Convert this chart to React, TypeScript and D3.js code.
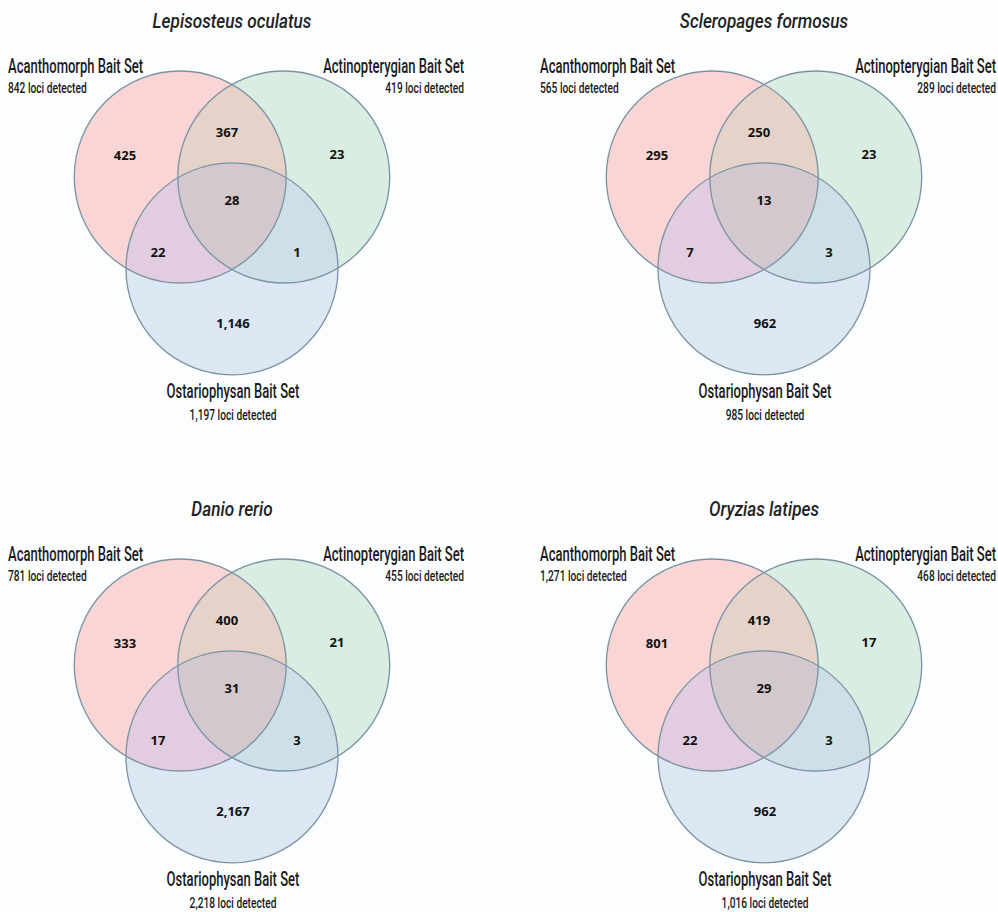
import React from "react";
import * as d3 from "d3";

const titles = ["Lepisosteus oculatus", "Scleropages formosus", "Danio rerio", "Oryzias latipes"];
const setNames = ["Acanthomorph Bait Set", "Actinopterygian Bait Set", "Ostariophysan Bait Set"];
const onlyA = [425, 295, 333, 801];
const onlyB = [23, 23, 21, 17];
const onlyC = [1146, 962, 2167, 962];
const bothAB = [367, 250, 400, 419];
const bothAC = [22, 7, 17, 22];
const bothBC = [1, 3, 3, 3];
const allABC = [28, 13, 31, 29];
const totalA = [842, 565, 781, 1271];
const totalB = [419, 289, 455, 468];
const totalC = [1197, 985, 2218, 1016];

const W = 998;
const H = 912;
const fmt = d3.format(",");

// panel grid
const col = d3.scaleLinear().domain([0, 1]).range([0, 532]);
const row = d3.scaleLinear().domain([0, 1]).range([0, 488]);
// unit venn geometry -> panel pixels
const ux = d3.scaleLinear().domain([-1, 1]).range([128.5, 335.5]);
const uy = d3.scaleLinear().domain([-1, 1]).range([126, 330]);
const R = 106;
const centers = {
  A: [-0.5, -0.5],
  B: [0.5, -0.5],
  C: [0, 0.4],
};
const colors = {
  A: "#f9d5d5",
  B: "#d9ede2",
  C: "#dde6f3",
  AB: "#e5d2c9",
  AC: "#e2cde0",
  BC: "#cde0e8",
  ABC: "#d2c8ce",
};
const stroke = "#7a93a3";

const labelFont = "Roboto, 'DejaVu Sans', sans-serif";
const numFont = "'Open Sans', 'DejaVu Sans', sans-serif";

function Panel({ i }: { i: number }) {
  const c = i % 2;
  const r = Math.floor(i / 2);
  const tx = col(c);
  const ty = row(r);
  const cA = [ux(centers.A[0]), uy(centers.A[1])];
  const cB = [ux(centers.B[0]), uy(centers.B[1])];
  const cC = [ux(centers.C[0]), uy(centers.C[1])];
  const id = (s: string) => `p${i}-${s}`;
  const nums = [
    { v: onlyA[i], x: 125, y: 155 },
    { v: bothAB[i], x: 227, y: 132 },
    { v: onlyB[i], x: 337, y: 154 },
    { v: allABC[i], x: 232, y: 200 },
    { v: bothAC[i], x: 158, y: 252 },
    { v: bothBC[i], x: 297, y: 252 },
    { v: onlyC[i], x: 233, y: 323 },
  ];
  return (
    <g transform={`translate(${tx},${ty})`}>
      <defs>
        <clipPath id={id("A")}>
          <circle cx={cA[0]} cy={cA[1]} r={R} />
        </clipPath>
        <clipPath id={id("B")}>
          <circle cx={cB[0]} cy={cB[1]} r={R} />
        </clipPath>
      </defs>
      <circle cx={cA[0]} cy={cA[1]} r={R} fill={colors.A} />
      <circle cx={cB[0]} cy={cB[1]} r={R} fill={colors.B} />
      <circle cx={cC[0]} cy={cC[1]} r={R} fill={colors.C} />
      <circle cx={cB[0]} cy={cB[1]} r={R} fill={colors.AB} clipPath={`url(#${id("A")})`} />
      <circle cx={cC[0]} cy={cC[1]} r={R} fill={colors.AC} clipPath={`url(#${id("A")})`} />
      <circle cx={cC[0]} cy={cC[1]} r={R} fill={colors.BC} clipPath={`url(#${id("B")})`} />
      <g clipPath={`url(#${id("A")})`}>
        <circle cx={cC[0]} cy={cC[1]} r={R} fill={colors.ABC} clipPath={`url(#${id("B")})`} />
      </g>
      {[cA, cB, cC].map((p, k) => (
        <circle key={k} cx={p[0]} cy={p[1]} r={R} fill="none" stroke={stroke} strokeWidth={1.3} />
      ))}
      {nums.map((n, k) => (
        <text
          key={k}
          x={n.x}
          y={n.y}
          dy="0.36em"
          textAnchor="middle"
          fontFamily={numFont}
          fontWeight={700}
          fontSize={13}
          fill="#111"
        >
          {fmt(n.v)}
        </text>
      ))}
      <text
        transform={`translate(232,28) scale(0.86,1)`}
        textAnchor="middle"
        fontFamily={labelFont}
        fontStyle="italic"
        fontWeight={500}
        fontSize={20}
        fill="#222"
      >
        {titles[i]}
      </text>
      <text transform={`translate(8,73) scale(0.62,1)`} fontFamily={labelFont} fontWeight={500} fontSize={21} fill="#1a1a1a">
        {setNames[0]}
      </text>
      <text transform={`translate(8,93) scale(0.68,1)`} fontFamily={labelFont} fontWeight={500} fontSize={15} fill="#1a1a1a">
        {`${fmt(totalA[i])} loci detected`}
      </text>
      <text transform={`translate(464,73) scale(0.62,1)`} textAnchor="end" fontFamily={labelFont} fontWeight={500} fontSize={21} fill="#1a1a1a">
        {setNames[1]}
      </text>
      <text transform={`translate(464,93) scale(0.68,1)`} textAnchor="end" fontFamily={labelFont} fontWeight={500} fontSize={15} fill="#1a1a1a">
        {`${fmt(totalB[i])} loci detected`}
      </text>
      <text transform={`translate(233,398) scale(0.62,1)`} textAnchor="middle" fontFamily={labelFont} fontWeight={500} fontSize={21} fill="#1a1a1a">
        {setNames[2]}
      </text>
      <text transform={`translate(233,420) scale(0.68,1)`} textAnchor="middle" fontFamily={labelFont} fontWeight={500} fontSize={15} fill="#1a1a1a">
        {`${fmt(totalC[i])} loci detected`}
      </text>
    </g>
  );
}

export default function App() {
  return (
    <svg
      width={W}
      height={H}
      viewBox={`0 0 ${W} ${H}`}
      style={{ position: "absolute", left: 0, top: 0, background: "#fcfdfe" }}
    >
      {titles.map((_, i) => (
        <Panel key={i} i={i} />
      ))}
    </svg>
  );
}
